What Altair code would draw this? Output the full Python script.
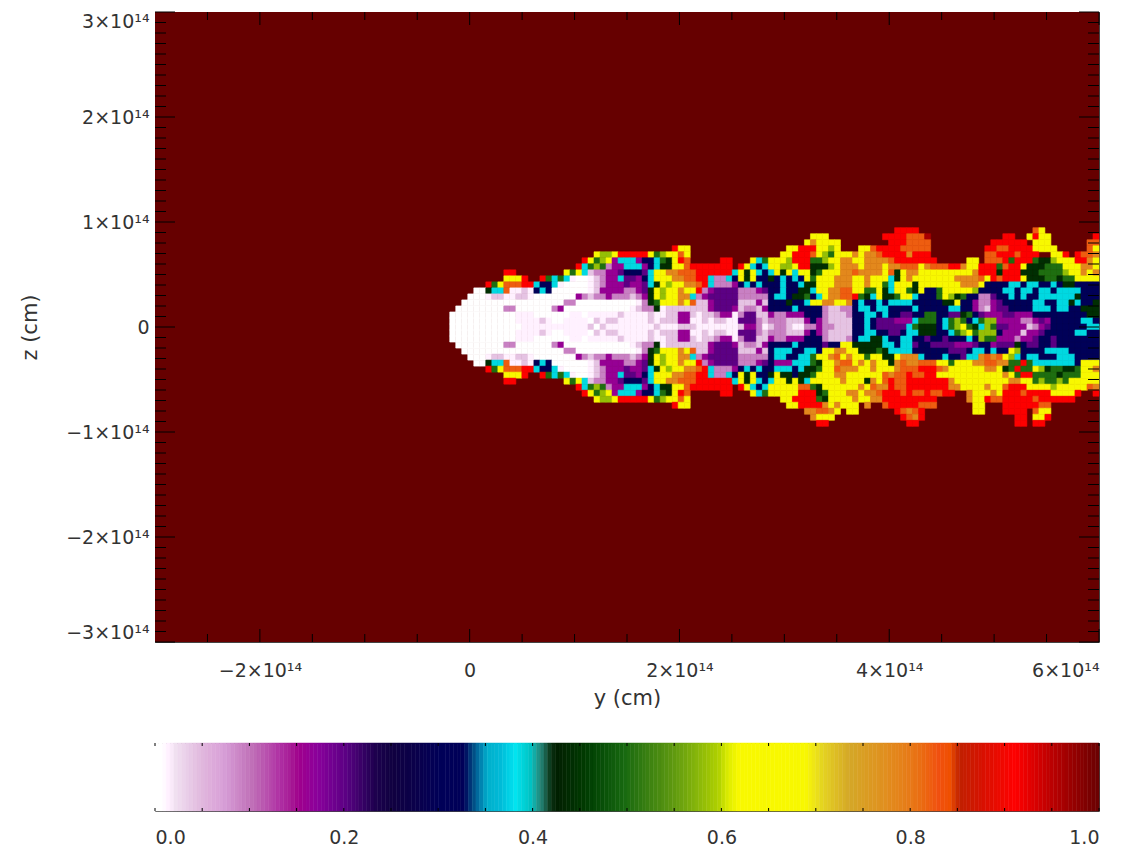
import altair as alt
import pandas as pd

alt.data_transformers.disable_max_rows()

# colour table
STOPS = [0.0, 0.008, 0.02, 0.05, 0.07, 0.1, 0.13, 0.15, 0.17, 0.2, 0.23, 0.25, 0.3, 0.326, 0.335, 0.35,
         0.365, 0.38, 0.397, 0.41, 0.418, 0.424, 0.45, 0.496, 0.548, 0.595, 0.605, 0.616, 0.687, 0.705,
         0.733, 0.77, 0.8, 0.828, 0.84, 0.85, 0.875, 0.909, 0.94, 0.97, 1.0]
COLORS = ["#ffffff", "#ffffff", "#f0e0f0", "#e0b4dc", "#d8a0d8", "#c070b8", "#b030a4", "#a0008c", "#8a009c",
          "#5c0084", "#200050", "#100040", "#000058", "#000058", "#004a80", "#00aecb",
          "#00bcd8", "#00e4f0", "#00c0c0", "#207060", "#0a3010", "#002000", "#003800", "#186a10", "#609a10",
          "#b0d000", "#dcec00", "#f8f800", "#f8f800", "#e4d420",
          "#d4a828", "#e09020", "#e87818", "#f05010", "#f05000", "#c02000", "#d81000", "#ff0000", "#c80000",
          "#980000", "#660000"]

CLASS_VALUES = {"R": 0.96, "r": 0.91, "o": 0.82, "a": 0.78, "y": 0.65, "l": 0.58, "g": 0.5, "d": 0.44,
                "c": 0.385, "b": 0.345, "n": 0.3, "v": 0.2, "p": 0.16, "m": 0.09, "h": 0.04, "e": 0.012, "w": 0.0}

ROWS = [
 ".......... .......... .......... .......... .......... .......... .......... ....rrrr.. .......... .......oy. ........",
 ".......... .......... .......... .......... .......... .......... yyy....... ..rrrroooR .......... ..rr..yryy .......r",
 ".......... .......... .......... .......... .......... .........y ayyyy..... ...rrroooo .......... rrrrrr.yyy ......oo",
 ".......... .......... .......... .......ryy .......... ......yyrr ryyly...yy orrrrooooo .........r roorrrryyy y.....oy",
 ".......... .......... ....yllyrr rrryglyyoy .......... .....yyrrr oylgyyyaya aorrrrarrr .........o orrrorrr.. yyr.rooa",
 ".......... .......... ..ryglypcc cpnncgdyro .....rr... ycgyyylrrr gglyyaayya aaaorrrrrr r.....yy.o oorgrrrgdd lyyyrray",
 ".......... .......... .rcglgmppc ccpncddyyo rrrrrrr.ry cncyyllyrr dddlyaaaya aayaaoooya ooorrayyrr rgorrydddg ggyyyaay",
 ".........r r........y gychmmppvn nnvcyyaaoo orrrrrrcyd ycncydycyy dgyyyaaoaa aayodyaayy yyyyyyyarr rdrrrdddgg gglyyaya",
 ".........y yyr..rgcgc ewwehmppcv vpncyyyaao orrcmmcnyd ynndncncny gyyyaaayya yyycdyayyy yyyyaaaaoy rorrrydddg gdggyyyy",
 "......rgyo oorrcnncew wwwehmpppv ppvcdylyya aorcmmmpnc ncnnncnncd dyyyaaayya yygcyyydyy yyyyyaaayn nnnccnccnn cnddnnnn",
 "....wwdcco eehencnwww wwwehppppm mpvdylyyay yrmpvvvvmm mpvnncnndd cyyaaooyyg gydcyygdyn ngyyyyylnn nnccnccncc nccccnnn",
 "...wwwehhe ehhewwwwww wpmhmmpmmm hmpdylyyaa cmpvvvvvmm mmmnccnddg ncyaaoorgd cyddgyycnn ngyldgnnmm vnncncnncc ccccdnnn",
 "..wwwwwwww wwwwwwwwwm mwwwwwwwww wemdgyyyay ohhpvvvvhh hphnnndnnc yyaayyancn ncnccccnnn nnddynnpmm pvnnnnnccn nccdcnnd",
 ".wwwwwwwwm mwwwwwwmpw wwwwwwwwww ehmmdehhhh hhhpvvvphm mhpnnnncnn nnmhhmmncc nccnnnncnn nnnccnnpmh pvvnnnnccc nccnnddd",
 "wwwwwwwwww weeewwwwww eeweeeeehe eeeheehhpp hehhmppemv vhhpmmpppn nnmhhhmnnc cncnnvvnng gnnvvdgnvp ppvvpppnnn nnnnnndd",
 "wwwwwwwwww weeeehewwe eeewhehhee eeehehhhpp eehehheevv vmhmmmhhhp npmhhhhnnc nvvvpppcgg gncglgncgl lppppmmpvp nnnnnccn",
 "wwwwwwwwww wweeeeeeee eeehwheeee eeeeheeehh heeeeeeehp pmehmmheem mpmmhhhnnc nvvvvvcgdd dncglygdcl gvvppphmpv nnnnnncc",
 "wwwwwwwwww weeeehewwe eeewhehhee eeehehhhpp eehehheevv vmhmmmhhhp npmhhhhnnc cnnvvnccdd dnncglygll lnppphppvn nnnnccnn",
 "wwwwwwwwww weeewwwwww eeweeeeehe eeeheehhpp hehhmppemv vhhpmmpppn nnmhhhmncc ddcnnccnnv nnvnnncnlg gpppmppvnn vnnnnnnn",
 ".wwwwwwwwm mwwwwwwmpw wwwwwwwwww ehmmdehhhh hhhpvvvphm mhpnnnncnn nnvnnyyddd ddccnccvnn vvvvpppvnn pvvvdnvvnn vnnnnnnn",
 "..wwwwwwww wwwwwwwwwm mwwwwwwwww wemdgyyyay ohhpvvvvhh hphncccnnc cnyyaayydd dgdccccnnn nnnvvvnccn cnnylnnnnc cccnnnnn",
 "...wwwehhe ehhewwwwww wpmhmmpmmm hmpdylyyaa cmpvvvvvmm mmmnccnncc gyyaoyayyg yyddyaaacn nncnnvccao aoylcnccnn ncccnnnn",
 "....wwdcco eehencnwww wwwehppppm mpvdylyyay yrmpvvvvmm mpvnpppccc gdyyaooyay ayydaoaaoo oyygyyyaao oaaggrgccc ccccnyyy",
 "......rgyo oorrcnncew wwwehmpppv ppvcdylyya aorcmmmpnc ncnncccncd dgyyoaaayy ayyyaooorr roayyyyyya aydgrggyld ggddgyya",
 ".........y yyr..rgcgc ewwehmppcv vpncyyyaao orrcmmcnyd ynndyddndd gyyyaayyyy yyoaooroor ryyyyyyyyy yyaygrrggg gdgggyyy",
 ".........r r........y gychmmppvn nnvcyyaaoo orrrrrrcyd ycncyydydc yyyyyayyyd ayoroorrrr rrrayyyyyy yyyaayyglg glgyyyyy",
 ".......... .......... .rcglgmppc ccpncddyyo rrrrrrr.ry cncyyyyyoo gdyyyyyyay oaaroorrrr rrraayyyya yyorrryyyy lyyyyyoa",
 ".......... .......... ..ryglypcc cpnncgdyro .....rr... ycgyyyyyrr rdgyyyaaya aorrroroor oorr..ayyy ayrrrorrrr yyyyr..r",
 ".......... .......... ....yllyrr rrryglyyoy .......... .....yyrrr rgdyyyyayy aarrrrrrrr r.....ayyr oorrrrrorr rrrr....",
 ".......... .......... .......... .......ryy .......... ......yyrr rrayayyy.a ..orrrrroo o......yy. ..rrrrrroo ........",
 ".......... .......... .......... .......... .......... .........a aooay.yy.. ....roaor. .......yy. ..rrrr.oyy ........",
 ".......... .......... .......... .......... .......... .......... ayyy...... .....roar. .......... ....rr.yyr ........",
 ".......... .......... .......... .......... .......... .......... .rr....... ......rr.. .......... ....rr.rr. ........",
]

Y_START = -1.9e13
Y_END = 6e14
N_COLS = 108
CELL = (Y_END - Y_START) / N_COLS

cells = []
for j, row in enumerate(ROWS):
    s = row.replace(" ", "")
    for i, ch in enumerate(s[:N_COLS]):
        if ch in CLASS_VALUES:
            cells.append({
                "y0": Y_START + i * CELL, "y1": Y_START + (i + 1) * CELL,
                "z0": (16.5 - j) * CELL, "z1": (15.5 - j) * CELL,
                "v": CLASS_VALUES[ch],
            })
cells = pd.DataFrame(cells)

Y_MAJOR = [-2e14, 0, 2e14, 4e14, 6e14]
Y_MINOR = [-2.5e14, -1.5e14, -1e14, -0.5e14, 0.5e14, 1e14, 1.5e14, 2.5e14, 3e14, 3.5e14, 4.5e14, 5e14, 5.5e14]
Z_MAJOR = [-3e14, -2e14, -1e14, 0, 1e14, 2e14, 3e14]
Z_MINOR = [k * 1e13 for k in range(-29, 30) if k % 10 != 0]
BAR_TICKS = [k * 0.05 for k in range(21)]
BAR_LABELS = [0.0, 0.2, 0.4, 0.6, 0.8, 1.0]
BAR_LEVELS = [k * 0.004 for k in range(250)]

W, H = 944, 630
FONT = "DejaVu Sans"
TXT = "#333333"
color_scale = alt.Scale(domain=STOPS, range=COLORS)
SCI = "datum.value == 0 ? '0' : format(datum.value / 1e14, 'd') + '×10¹⁴'"

xs = alt.Scale(domain=[-3e14, 6e14], nice=False, zero=False)
zs = alt.Scale(domain=[-3e14, 3e14], nice=False, zero=False)

bg = alt.Chart(pd.DataFrame({"a": [-3e14], "b": [6e14], "c": [-3e14], "d": [3e14], "v": [1.0]})).mark_rect().encode(
    x=alt.X("a:Q", scale=xs, title="y (cm)", axis=alt.Axis(
        values=Y_MAJOR, labelExpr=SCI, tickSize=0, domain=False, grid=False, labelPadding=19,
        labelFont=FONT, labelFontSize=19, labelColor=TXT, labelOverlap=False,
        titleFont=FONT, titleFontSize=21, titleFontWeight="normal", titleColor=TXT, titlePadding=7)),
    x2="b:Q",
    y=alt.Y("c:Q", scale=zs, title="z (cm)", axis=alt.Axis(
        values=Z_MAJOR, labelExpr=SCI, tickSize=0, domain=False, grid=False, labelPadding=6, labelFlush=True,
        labelFont=FONT, labelFontSize=19, labelColor=TXT, labelOverlap=False,
        titleFont=FONT, titleFontSize=21, titleFontWeight="normal", titleColor=TXT, titlePadding=25)),
    y2="d:Q",
    color=alt.Color("v:Q", scale=color_scale, legend=None),
)

plume = alt.Chart(cells).mark_rect(strokeWidth=0.6).encode(
    x=alt.X("y0:Q", scale=xs), x2="y1:Q",
    y=alt.Y("z0:Q", scale=zs), y2="z1:Q",
    color=alt.Color("v:Q", scale=color_scale, legend=None),
    stroke=alt.Stroke("v:Q", scale=color_scale, legend=None),
)


def xticks(vals, length):
    d = alt.Chart(pd.DataFrame({"t": vals})).mark_rule(color="#000000", strokeWidth=1)
    return [
        d.encode(x=alt.X("t:Q", scale=xs), y=alt.value(H), y2=alt.value(H - length)),
        d.encode(x=alt.X("t:Q", scale=xs), y=alt.value(0), y2=alt.value(length)),
    ]


def zticks(vals, length):
    d = alt.Chart(pd.DataFrame({"t": vals})).mark_rule(color="#000000", strokeWidth=1)
    return [
        d.encode(y=alt.Y("t:Q", scale=zs), x=alt.value(0), x2=alt.value(length)),
        d.encode(y=alt.Y("t:Q", scale=zs), x=alt.value(W), x2=alt.value(W - length)),
    ]


main = alt.layer(
    bg, plume,
    *xticks(Y_MAJOR, 13), *xticks(Y_MINOR, 8),
    *zticks(Z_MAJOR, 20), *zticks(Z_MINOR, 11),
).properties(width=W, height=H)

bs = alt.Scale(domain=[0, 1], nice=False, zero=False)
levels = pd.DataFrame({"a": BAR_LEVELS, "b": [v + 0.004 for v in BAR_LEVELS], "v": BAR_LEVELS})
bar = alt.Chart(levels).mark_rect(strokeWidth=0.5).encode(
    x=alt.X("a:Q", scale=bs, title=None, axis=alt.Axis(
        values=BAR_LABELS, format=".1f", tickSize=0, domain=False, grid=False, labelPadding=17,
        labelFont=FONT, labelFontSize=19, labelColor=TXT, labelOverlap=False)),
    x2="b:Q",
    color=alt.Color("v:Q", scale=color_scale, legend=None),
    stroke=alt.Stroke("v:Q", scale=color_scale, legend=None),
)
bt = alt.Chart(pd.DataFrame({"t": BAR_TICKS})).mark_rule(color="#000000", strokeWidth=1)
colorbar = alt.layer(
    bar,
    bt.encode(x=alt.X("t:Q", scale=bs), y=alt.value(0), y2=alt.value(3)),
    bt.encode(x=alt.X("t:Q", scale=bs), y=alt.value(65), y2=alt.value(68)),
).properties(width=W, height=68)

chart = alt.vconcat(main, colorbar, spacing=33).resolve_scale(
    color="shared", x="independent", y="independent"
).configure_view(stroke="#444444", strokeWidth=1).properties(
    padding={"left": 11, "top": 3, "right": 0, "bottom": 0}
)

chart.save("out.html", embed_options={"renderer": "svg", "actions": False})
